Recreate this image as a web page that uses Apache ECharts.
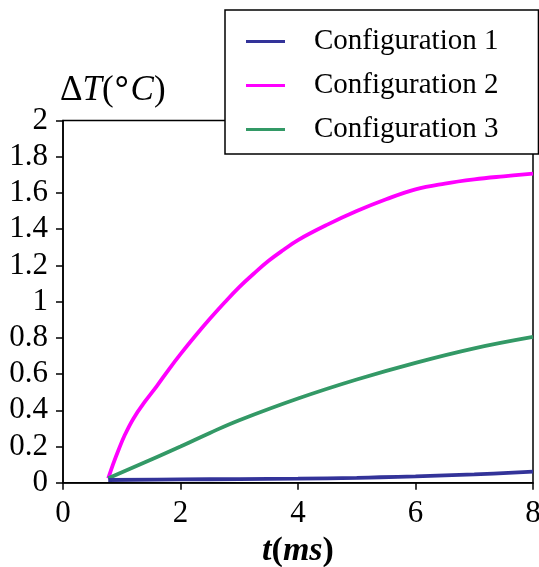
<!DOCTYPE html>
<html>
<head>
<meta charset="utf-8">
<script src="https://cdn.jsdelivr.net/npm/echarts@6/dist/echarts.min.js"></script>
<style>html,body{margin:0;padding:0;background:#fff;}#chart{width:539px;height:567px;}</style>
</head>
<body>
<div id="chart"></div>
<script>
// Data: [t (ms), deltaT (°C)]
var seriesNames = ['Configuration 1', 'Configuration 2', 'Configuration 3'];
var config1 = [[0.77,0.015],[2,0.018],[3,0.02],[4,0.022],[5,0.027],[5.4,0.03],[6,0.035],[7,0.046],[8,0.061]];
var config2 = [[0.77,0.024],[0.85,0.10],[0.95,0.185],[1.05,0.262],[1.2,0.355],[1.4,0.45],[1.6,0.535],[1.8,0.625],[2.0,0.71],[2.25,0.81],[2.5,0.905],[2.75,0.995],[3.0,1.08],[3.25,1.155],[3.5,1.225],[3.75,1.285],[4.0,1.34],[4.5,1.425],[5.0,1.5],[5.5,1.565],[6.0,1.62],[6.5,1.652],[7.0,1.675],[7.5,1.692],[8.0,1.707]];
var config3 = [[0.77,0.024],[2,0.2],[2.5,0.275],[3,0.345],[4,0.465],[5,0.57],[6,0.662],[7,0.742],[8,0.805]];
var colors = ['#333399', '#FF00FF', '#339966'];
var xTicks = [0, 2, 4, 6, 8];
var yTicks = [0, 0.2, 0.4, 0.6, 0.8, 1, 1.2, 1.4, 1.6, 1.8, 2];

var FONT = '"Liberation Serif", "Times New Roman", serif';
var chart = echarts.init(document.getElementById('chart'), null, {renderer: 'canvas'});
var dataSets = [config1, config2, config3];
var option = {
  animation: false,
  backgroundColor: '#fff',
  textStyle: {fontFamily: FONT, color: '#000'},
  grid: {left: 63, right: 6, top: 120.5, bottom: 84.3, containLabel: false, outerBoundsMode: 'none',
         show: true, borderColor: '#000', borderWidth: 1.5, backgroundColor: 'transparent'},
  legend: {
    orient: 'vertical', left: 225, top: 10,
    backgroundColor: '#fff', borderColor: '#000', borderWidth: 1.5,
    padding: [17, 40, 10, 21], itemGap: 15, itemWidth: 39, itemHeight: 3,
    icon: 'rect',
    textStyle: {fontFamily: FONT, fontSize: 29, color: '#000', padding: [0, 0, 0, 24]},
    data: seriesNames
  },
  xAxis: {
    type: 'value', min: xTicks[0], max: xTicks[xTicks.length - 1], interval: 2,
    axisLine: {show: true, onZero: false, lineStyle: {color: '#000', width: 1.5}},
    axisTick: {show: true, length: 7, lineStyle: {color: '#000', width: 1.5}},
    axisLabel: {fontFamily: FONT, fontSize: 31, color: '#000', margin: 16},
    splitLine: {show: false},
    name: '{it|t}{up|(}{it|ms}{up|)}', nameLocation: 'middle', nameGap: 44,
    nameTextStyle: {
      rich: {
        it: {fontFamily: FONT, fontSize: 34, fontStyle: 'italic', fontWeight: 'bold', color: '#000'},
        up: {fontFamily: FONT, fontSize: 34, fontWeight: 'bold', color: '#000'}
      }
    }
  },
  yAxis: {
    type: 'value', min: yTicks[0], max: yTicks[yTicks.length - 1], interval: 0.2,
    axisLine: {show: true, lineStyle: {color: '#000', width: 1.5}},
    axisTick: {show: true, length: 7, lineStyle: {color: '#000', width: 1.5}},
    axisLabel: {fontFamily: FONT, fontSize: 31, color: '#000', margin: 15},
    splitLine: {show: false},
    name: '{up|\u0394}{it|T}{up|(}{deg|\u00B0}{it|C}{up|)}', nameLocation: 'end', nameGap: 12,
    nameTextStyle: {
      align: 'left', padding: [0, 0, 0, -3],
      rich: {
        it: {fontFamily: FONT, fontSize: 35, fontStyle: 'italic', color: '#000'},
        up: {fontFamily: FONT, fontSize: 35, color: '#000'},
        deg: {fontFamily: FONT, fontSize: 35, fontWeight: 'bold', color: '#000', padding: [0, 2, 0, 1]}
      }
    }
  },
  series: dataSets.map(function (d, i) {
    return {
      name: seriesNames[i], type: 'line', data: d,
      symbol: 'none', smooth: 0.4,
      lineStyle: {color: colors[i], width: 3.8},
      itemStyle: {color: colors[i]},
      z: i === 0 ? 4 : 3
    };
  })
};
chart.setOption(option);
</script>
</body>
</html>
